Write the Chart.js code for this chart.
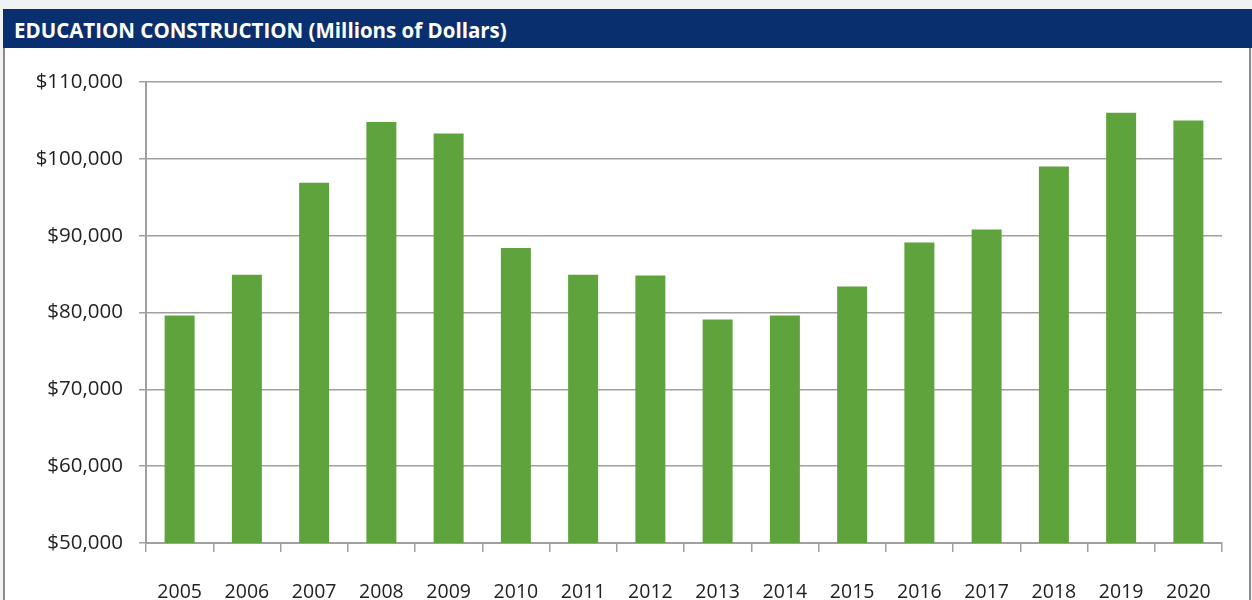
<!DOCTYPE html>
<html>
<head>
<meta charset="utf-8">
<script src="https://cdn.jsdelivr.net/npm/chart.js@4/dist/chart.umd.min.js"></script>
<style>
  html, body { margin: 0; padding: 0; width: 1252px; height: 600px; overflow: hidden; background: #f1f2f4; }
  #panel { position: absolute; left: 3px; top: 48px; width: 1244px; height: 560px; background: #fff;
           border-left: 2px solid #8c8c8c; border-right: 2px solid #8c8c8c; }
  #header { position: absolute; left: 3px; top: 9px; width: 1249px; height: 39px; background: #0a2f6f;
            color: #fff; font-family: "Open Sans", "Liberation Sans", sans-serif; font-weight: bold; font-size: 20.5px;
            line-height: 42px; padding-left: 11px; box-sizing: border-box; letter-spacing: 0px; }
  #wrap { position: absolute; left: 0; top: 0; width: 1252px; height: 600px; }
</style>
</head>
<body>
<div id="panel"></div>
<div id="header">EDUCATION CONSTRUCTION (Millions of Dollars)</div>
<div id="wrap"><canvas id="c"></canvas></div>
<script>
const categories = ["2005","2006","2007","2008","2009","2010","2011","2012","2013","2014","2015","2016","2017","2018","2019","2020"];
const values = [79600, 84900, 96900, 104800, 103300, 88400, 84900, 84800, 79100, 79600, 83400, 89100, 90800, 99000, 106000, 105000];
const yMin = 50000, yMax = 110000, yStep = 10000;

const fontFam = '"Open Sans", "Liberation Sans", sans-serif';
new Chart(document.getElementById('c'), {
  type: 'bar',
  data: {
    labels: categories,
    datasets: [{ data: values, backgroundColor: '#5fa33c', borderWidth: 0,
                 categoryPercentage: 1.0, barPercentage: 0.446 }]
  },
  options: {
    responsive: true, maintainAspectRatio: false, animation: false,
    layout: { padding: { top: 82, right: 30, left: 0, bottom: 0 } },
    plugins: { legend: { display: false }, tooltip: { enabled: false } },
    scales: {
      x: {
        grid: { display: true, drawOnChartArea: false, drawTicks: true, tickLength: 9, color: '#a0a0a0', lineWidth: 1.5, offset: true },
        border: { display: true, color: '#a0a0a0', width: 2 },
        ticks: { color: '#222', font: { family: fontFam, size: 19.5 }, padding: 29, maxRotation: 0, autoSkip: false },
        afterFit: s => { s.height = 57; }
      },
      y: {
        min: yMin, max: yMax,
        grid: { color: '#a0a0a0', lineWidth: 1.5, tickLength: 7, drawTicks: true },
        border: { display: true, color: '#a0a0a0', width: 2 },
        ticks: { stepSize: yStep, color: '#222', font: { family: fontFam, size: 20.5 }, padding: 16,
                 callback: v => '$' + v.toLocaleString('en-US') },
        afterFit: s => { s.width = 146; }
      }
    }
  }
});
</script>
</body>
</html>
